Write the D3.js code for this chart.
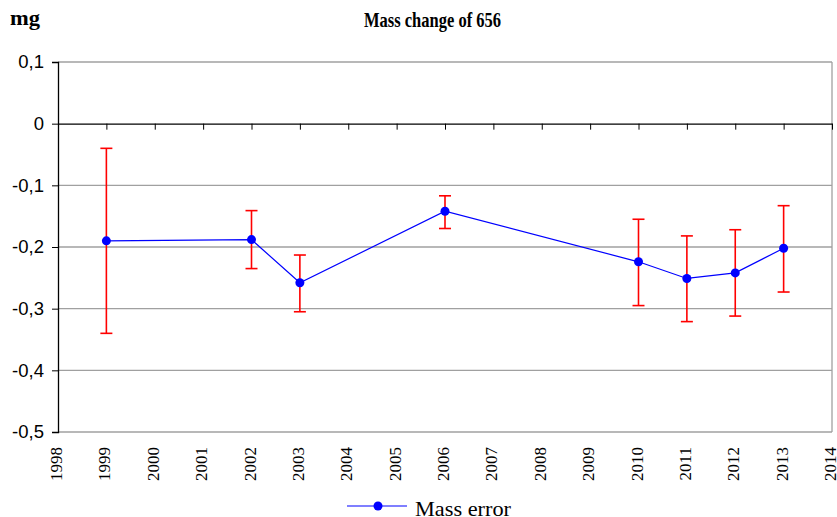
<!DOCTYPE html>
<html>
<head>
<meta charset="utf-8">
<script src="https://cdn.jsdelivr.net/npm/d3@7"></script>
<style>
    body { margin: 0; background: #fff; }
    svg { display: block; }
</style>
</head>
<body>
<div id="chart"></div>
<script>
// data
const years = [1999, 2002, 2003, 2006, 2010, 2011, 2012, 2013];
const massChange = [-0.19, -0.188, -0.258, -0.142, -0.224, -0.251, -0.242, -0.202];
const errUp = [-0.04, -0.141, -0.213, -0.117, -0.155, -0.182, -0.172, -0.133];
const errDown = [-0.34, -0.235, -0.305, -0.170, -0.295, -0.321, -0.312, -0.273];
const yTicks = [0.1, 0, -0.1, -0.2, -0.3, -0.4, -0.5];
const xTicks = d3.range(1998, 2015);

const width = 837,
    height = 517,
    margin = { top: 62, right: 5, bottom: 85, left: 58 };

const svg = d3
    .select("#chart")
    .append("svg")
    .attr("width", width)
    .attr("height", height);

const x = d3.scaleLinear().domain([1998, 2014]).range([margin.left, width - margin.right]);
const y = d3.scaleLinear().domain([-0.5, 0.1]).range([height - margin.bottom, margin.top]);

const fmt = (d) => (d === 0 ? "0" : d3.format(".1f")(d).replace(".", ",").replace("−", "-"));
const serif = "Liberation Serif, Times New Roman, serif";

// gridlines
svg.append("g")
    .selectAll("line")
    .data(yTicks.filter((d) => d !== 0))
    .enter()
    .append("line")
    .attr("x1", x(1998))
    .attr("x2", x(2014))
    .attr("y1", (d) => y(d))
    .attr("y2", (d) => y(d))
    .attr("stroke", "#a0a0a0")
    .attr("stroke-width", 1.3);

// right border
svg.append("line")
    .attr("x1", x(2014))
    .attr("x2", x(2014))
    .attr("y1", y(0.1))
    .attr("y2", y(-0.5))
    .attr("stroke", "#a0a0a0")
    .attr("stroke-width", 1.3);

// y axis
const yAxis = svg.append("g")
    .attr("transform", `translate(${x(1998)},0)`)
    .call(d3.axisLeft(y).tickValues(yTicks).tickFormat(fmt).tickSize(6).tickPadding(8));
yAxis.select(".domain").attr("stroke", "#000").attr("stroke-width", 1.3);
yAxis.selectAll("text")
    .attr("font-family", "Liberation Sans, Arial, sans-serif")
    .attr("font-size", 18.5)
    .attr("fill", "#000");

// x axis at zero
const xAxis = svg.append("g")
    .attr("transform", `translate(0,${y(0)})`)
    .call(d3.axisBottom(x).tickValues(xTicks).tickFormat("").tickSizeInner(6).tickSizeOuter(0));
xAxis.select(".domain").attr("stroke", "#000").attr("stroke-width", 1.3);

// x labels at the bottom, rotated
svg.append("g")
    .selectAll("text")
    .data(xTicks)
    .enter()
    .append("text")
    .attr("transform", (d) => `translate(${Math.min(x(d) + 4, width - 1)},${y(-0.5) + 15}) rotate(-90)`)
    .attr("text-anchor", "end")
    .attr("font-family", serif)
    .attr("font-size", 17)
    .text((d) => d);

// error bars
const eb = svg.append("g").attr("stroke", "#ff0000").attr("stroke-width", 1.6);
years.forEach((yr, i) => {
    eb.append("line")
        .attr("x1", x(yr)).attr("x2", x(yr))
        .attr("y1", y(errUp[i])).attr("y2", y(errDown[i]));
    [errUp[i], errDown[i]].forEach((v) => {
        eb.append("line")
            .attr("x1", x(yr) - 6).attr("x2", x(yr) + 6)
            .attr("y1", y(v)).attr("y2", y(v));
    });
});

// line and points
const line = d3.line().x((d) => x(d[0])).y((d) => y(d[1]));
const pts = years.map((yr, i) => [yr, massChange[i]]);
svg.append("path")
    .attr("d", line(pts))
    .attr("fill", "none")
    .attr("stroke", "#0000ff")
    .attr("stroke-width", 1.2);
svg.selectAll(".pt")
    .data(pts)
    .enter()
    .append("circle")
    .attr("class", "pt")
    .attr("cx", (d) => x(d[0]))
    .attr("cy", (d) => y(d[1]))
    .attr("r", 4.5)
    .attr("fill", "#0000ff");

// title + unit
svg.append("text")
    .attr("x", 364)
    .attr("y", 27)
    .attr("textLength", 137)
    .attr("lengthAdjust", "spacingAndGlyphs")
    .attr("font-family", serif)
    .attr("font-weight", "bold")
    .attr("font-size", 21)
    .text("Mass change of 656");
svg.append("text")
    .attr("x", 10)
    .attr("y", 25)
    .attr("textLength", 30)
    .attr("lengthAdjust", "spacingAndGlyphs")
    .attr("font-family", serif)
    .attr("font-weight", "bold")
    .attr("font-size", 21)
    .text("mg");

// legend
const lg = svg.append("g").attr("transform", "translate(347,506)");
lg.append("line").attr("x1", 0).attr("x2", 60).attr("stroke", "#0000ff").attr("stroke-width", 1.2);
lg.append("circle").attr("cx", 31).attr("r", 4.5).attr("fill", "#0000ff");
lg.append("text")
    .attr("x", 68)
    .attr("y", 10)
    .attr("textLength", 96)
    .attr("lengthAdjust", "spacingAndGlyphs")
    .attr("font-family", serif)
    .attr("font-size", 21)
    .text("Mass error");
</script>
</body>
</html>
